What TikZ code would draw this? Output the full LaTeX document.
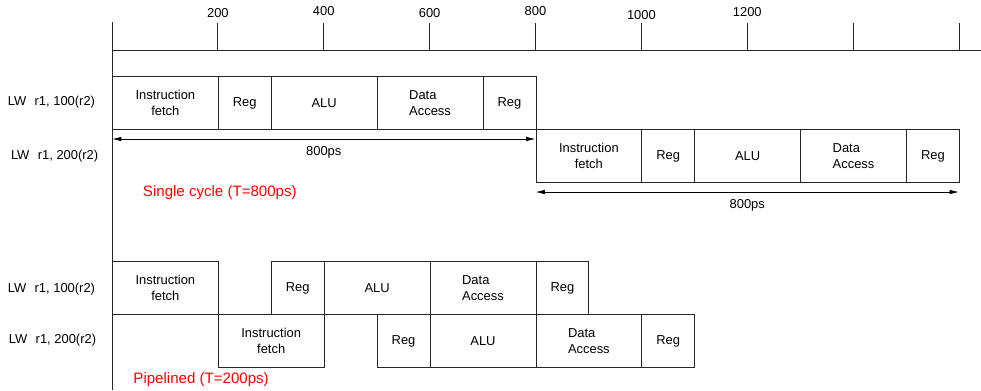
\documentclass[tikz,border=0pt]{standalone}
\usepackage{fontspec}
\setmainfont{Liberation Sans}
\usetikzlibrary{arrows.meta,positioning,calc}
\tikzset{>={Latex[length=7pt,width=3.4pt]}}

\begin{document}
\begin{tikzpicture}[x=0.397pt,y=-0.75pt,
   stg/.style={draw=black!85,line width=0.6pt,anchor=north west,minimum height=39.75pt,inner sep=0,font=\fontsize{9.7}{11.8}\selectfont,align=center},
   wd/.style={minimum width=#1*0.397pt},
   lbl/.style={font=\fontsize{9.7}{11.8}\selectfont,inner sep=1pt},
   note/.style={inner sep=0pt,font=\fontsize{11.3}{13}\selectfont,text=red,anchor=west},
   dim/.style={<->,line width=0.6pt}]
  \useasboundingbox (-211.6,0) rectangle (1641.5,390);
  % time axis
  \draw[line width=0.6pt,black!85] (0,22) -- (0,390);
  \draw[line width=0.6pt,black!85] (0,50) -- (1641.5,50);
  \foreach \t in {200,400,...,1600}
    \draw[line width=0.6pt,black!85] (\t,23) -- (\t,50);
  \foreach \t/\y in {200/13.5,400/11.5,600/13.5,800/11.5,1000/15.5,1200/12.5}
    \node[lbl] (t\t) at (\t,\y) {\t};
  % single cycle
  \node[lbl,anchor=east] (sa) at (-29,102) {LW\hspace{0.65em}r1, 100(r2)};
  \node[lbl,anchor=east] (sb) at (-23,156) {LW\hspace{0.65em}r1, 200(r2)};
  \node[stg,wd=200] (sif1) at (0,76) {Instruction\\fetch};
  \node[stg,wd=100] (srd1) at (200,76) {Reg};
  \node[stg,wd=200] (sal1) at (300,76) {ALU};
  \node[stg,wd=200,align=left] (sda1) at (500,76) {Data\\Access};
  \node[stg,wd=100] (swb1) at (700,76) {Reg};
  \node[stg,wd=200] (sif2) at (800,129) {Instruction\\fetch};
  \node[stg,wd=100] (srd2) at (1000,129) {Reg};
  \node[stg,wd=200] (sal2) at (1100,129) {ALU};
  \node[stg,wd=200,align=left] (sda2) at (1300,129) {Data\\Access};
  \node[stg,wd=100] (swb2) at (1500,129) {Reg};
  \coordinate (d1a) at (0,139);
  \coordinate (d1b) at (800,139);
  \coordinate (d2a) at (800,192);
  \coordinate (d2b) at (1600,192);
  \draw[dim] (d1a) -- node[lbl,below=4.5pt] (d1l) {800ps} (d1b);
  \draw[dim] (d2a) -- node[lbl,below=4.5pt] (d2l) {800ps} (d2b);
  \node[note] (sc) at (58,192.5) {Single cycle (T=800ps)};
  % pipelined
  \node[lbl,anchor=east] (pa) at (-29,289) {LW\hspace{0.65em}r1, 100(r2)};
  \node[lbl,anchor=east] (pb) at (-27,340) {LW\hspace{0.65em}r1, 200(r2)};
  \node[stg,wd=200] (pif1) at (0,261) {Instruction\\fetch};
  \node[stg,wd=100] (prd1) at (300,261) {Reg};
  \node[stg,wd=200] (pal1) at (400,261) {ALU};
  \node[stg,wd=200,align=left] (pda1) at (600,261) {Data\\Access};
  \node[stg,wd=100] (pwb1) at (800,261) {Reg};
  \node[stg,wd=200] (pif2) at (200,314) {Instruction\\fetch};
  \node[stg,wd=100] (prd2) at (500,314) {Reg};
  \node[stg,wd=200] (pal2) at (600,314) {ALU};
  \node[stg,wd=200,align=left] (pda2) at (800,314) {Data\\Access};
  \node[stg,wd=100] (pwb2) at (1000,314) {Reg};
  \node[note] (pl) at (40,380) {Pipelined (T=200ps)};
\end{tikzpicture}
\end{document}
